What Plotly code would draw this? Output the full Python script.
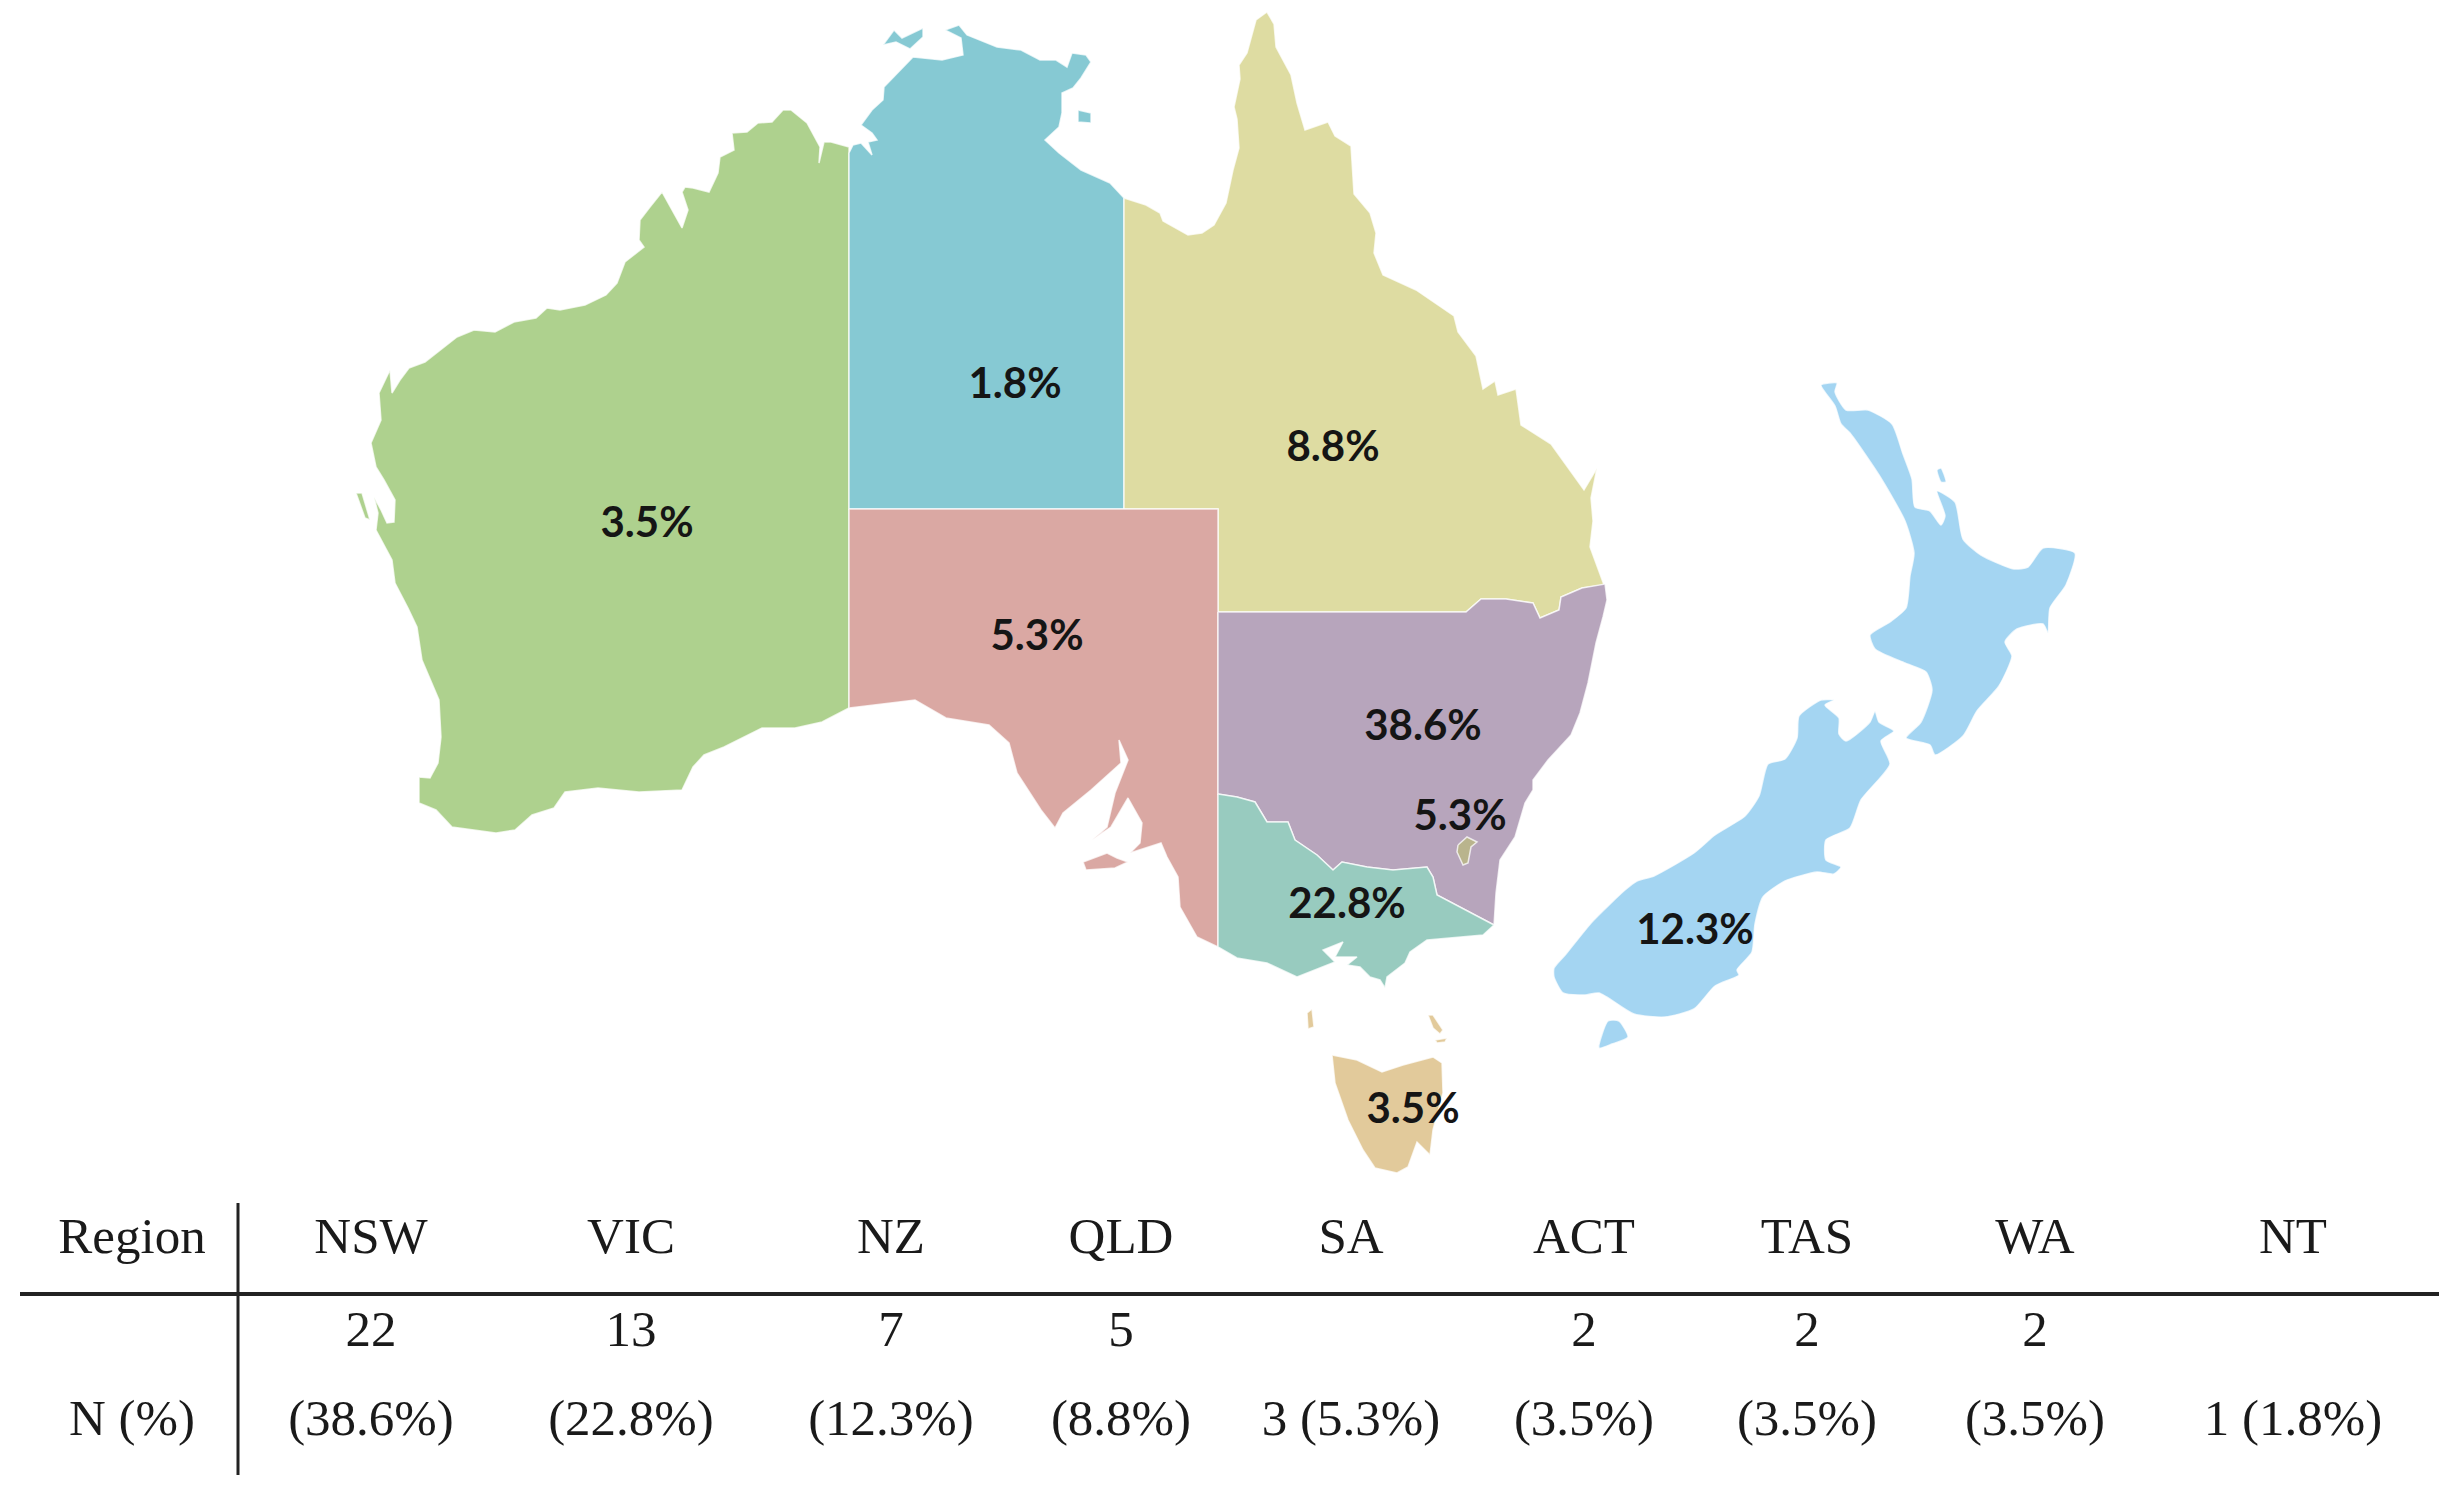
import plotly.graph_objects as go

# outlines, in picture pixels
wa_outline = [
    (849, 147), (831, 142), (824, 142), (819, 163), (820, 147), (807, 123), (791, 110), (783, 110),
    (772, 122), (758, 123), (747, 132), (732, 133), (734, 150), (720, 157), (718, 173), (709, 192),
    (693, 188), (685, 187), (682, 192), (688, 210), (682, 228), (662, 192), (650, 207), (640, 220),
    (639, 240), (644, 247), (625, 262), (617, 283), (606, 295), (585, 305), (560, 310), (547, 308),
    (536, 318), (514, 322), (495, 332), (474, 330), (457, 337), (438, 352), (425, 362), (409, 368),
    (400, 380), (392, 393), (390, 370), (379, 393), (381, 420), (371, 443), (376, 467), (384, 480),
    (395, 500), (394, 522), (387, 523), (381, 510), (374, 497), (378, 513), (376, 530), (392, 560),
    (395, 583), (408, 608), (417, 627), (422, 660), (439, 700), (441, 737), (438, 763), (430, 778),
    (419, 777), (419, 803), (436, 810), (452, 827), (496, 833), (515, 830), (532, 815), (554, 808),
    (565, 792), (598, 788), (639, 792), (682, 790), (693, 767), (704, 755), (724, 747), (762, 728),
    (795, 728), (822, 722), (849, 708),
]
wa_island = [(356, 493), (362, 493), (370, 520), (365, 518)]

nt_outline = [
    (849, 153), (853, 145), (861, 143), (872, 155), (868, 142), (877, 140), (872, 133), (861, 125),
    (872, 110), (883, 100), (884, 87), (899, 72), (913, 57), (942, 60), (963, 55), (961, 38),
    (945, 30), (959, 25), (967, 35), (997, 47), (1021, 50), (1040, 60), (1056, 60), (1067, 67),
    (1072, 53), (1086, 55), (1091, 62), (1081, 78), (1073, 88), (1062, 93), (1062, 113), (1059, 127),
    (1045, 140), (1059, 153), (1081, 170), (1110, 183), (1124, 198), (1124, 509), (849, 509),
]
nt_tiwi = [(883, 45), (894, 30), (902, 38), (923, 28), (923, 37), (910, 49), (896, 42)]
nt_groote = [(1078, 110), (1091, 113), (1091, 123), (1078, 122)]

qld_outline = [
    (1124, 198), (1146, 205), (1160, 213), (1163, 221), (1188, 235), (1202, 233), (1214, 225), (1226, 203),
    (1233, 170), (1239, 148), (1237, 119), (1234, 107), (1240, 79), (1239, 65), (1247, 53), (1256, 20),
    (1267, 12), (1274, 24), (1276, 47), (1291, 75), (1297, 103), (1305, 130), (1328, 122), (1335, 136),
    (1351, 146), (1354, 194), (1370, 213), (1376, 233), (1374, 253), (1383, 275), (1416, 290), (1454, 316),
    (1458, 332), (1476, 356), (1483, 389), (1495, 381), (1498, 395), (1516, 389), (1521, 425), (1551, 444),
    (1584, 490), (1597, 468), (1591, 498), (1593, 521), (1590, 547), (1604, 585), (1582, 588), (1561, 597),
    (1559, 610), (1540, 618), (1533, 603), (1506, 599), (1481, 599), (1466, 612), (1218, 612), (1218, 509),
    (1124, 509),
]

sa_outline = [
    (849, 509), (1218, 509), (1218, 947), (1197, 937), (1180, 907), (1178, 877), (1167, 857), (1161, 843),
    (1130, 853), (1140, 843), (1142, 823), (1128, 798), (1111, 827), (1092, 840), (1107, 827), (1115, 793),
    (1128, 760), (1119, 740), (1121, 763), (1091, 790), (1063, 813), (1055, 828), (1041, 810), (1017, 773),
    (1009, 743), (989, 725), (946, 718), (915, 700), (849, 708),
]
sa_kangaroo = [(1083, 862), (1107, 853), (1117, 858), (1128, 862), (1115, 868), (1086, 870)]

nsw_outline = [
    (1218, 612), (1466, 612), (1481, 599), (1506, 599), (1533, 603), (1540, 618), (1559, 610), (1561, 597),
    (1582, 588), (1605, 584), (1607, 600), (1603, 617), (1596, 643), (1588, 683), (1580, 713), (1571, 735),
    (1548, 760), (1533, 780), (1533, 790), (1525, 803), (1515, 837), (1500, 860), (1496, 893), (1494, 925),
    (1437, 895), (1433, 877), (1427, 867), (1393, 870), (1367, 867), (1342, 862), (1333, 870), (1317, 855),
    (1295, 840), (1288, 822), (1267, 822), (1255, 802), (1237, 797), (1218, 794),
]
act_outline = [(1458, 845), (1467, 837), (1477, 842), (1471, 847), (1468, 863), (1463, 865), (1457, 852)]

vic_outline = [
    (1218, 794), (1237, 797), (1255, 802), (1267, 822), (1288, 822), (1295, 840), (1317, 855), (1333, 870),
    (1342, 862), (1367, 867), (1393, 870), (1427, 867), (1433, 877), (1437, 895), (1494, 925), (1483, 935),
    (1427, 940), (1410, 952), (1405, 963), (1387, 977), (1385, 988), (1380, 980), (1370, 977), (1360, 967),
    (1347, 965), (1357, 957), (1335, 957), (1343, 942), (1323, 950), (1335, 962), (1297, 977), (1267, 963),
    (1237, 958), (1218, 947),
]

tas_outline = [
    (1332, 1055), (1357, 1060), (1382, 1072), (1403, 1065), (1433, 1057), (1442, 1063), (1443, 1093), (1433, 1130),
    (1430, 1155), (1417, 1142), (1408, 1167), (1397, 1173), (1375, 1168), (1363, 1150), (1348, 1120), (1335, 1083),
]
tas_king = [(1307, 1013), (1312, 1009), (1314, 1027), (1308, 1029)]
tas_flinders = [(1428, 1015), (1433, 1015), (1443, 1030), (1440, 1034), (1433, 1028)]
tas_cape = [(1435, 1040), (1447, 1038), (1445, 1042), (1437, 1043)]

nz_north = [
    (1821, 385), (1837, 383), (1835, 392), (1846, 410), (1868, 410), (1892, 424), (1903, 454), (1912, 479),
    (1915, 507), (1930, 511), (1941, 525), (1945, 516), (1937, 491), (1955, 502), (1963, 539), (1981, 555),
    (2014, 569), (2028, 567), (2043, 548), (2075, 553), (2066, 585), (2050, 608), (2048, 633), (2043, 624),
    (2017, 629), (2005, 642), (2012, 656), (1999, 686), (1977, 711), (1963, 736), (1935, 755), (1930, 745),
    (1906, 738), (1921, 722), (1932, 690), (1926, 672), (1905, 663), (1875, 649), (1870, 635), (1890, 622),
    (1906, 608), (1910, 576), (1914, 553), (1905, 521), (1879, 475), (1850, 433), (1841, 424), (1835, 406),
]
nz_barrier = [(1937, 470), (1941, 468), (1946, 482), (1941, 482)]
nz_south = [
    (1821, 700), (1834, 700), (1825, 705), (1839, 718), (1839, 734), (1846, 741), (1870, 722), (1875, 711),
    (1879, 722), (1894, 731), (1881, 741), (1890, 764), (1861, 800), (1850, 828), (1826, 840), (1826, 860),
    (1841, 867), (1834, 874), (1817, 872), (1785, 881), (1763, 897), (1755, 924), (1752, 952), (1737, 970),
    (1739, 975), (1715, 986), (1694, 1009), (1665, 1017), (1634, 1014), (1599, 993), (1585, 995), (1563, 993),
    (1554, 977), (1554, 968), (1566, 954), (1592, 922), (1625, 890), (1637, 881), (1654, 876), (1694, 853),
    (1715, 835), (1745, 816), (1759, 796), (1768, 764), (1785, 759), (1797, 738), (1799, 716),
]
nz_stewart = [(1599, 1048), (1608, 1021), (1619, 1021), (1628, 1037), (1612, 1044)]

# map labels
map_labels = ["3.5%", "1.8%", "8.8%", "5.3%", "38.6%", "5.3%", "22.8%", "12.3%", "3.5%"]
map_label_x = [647, 1015, 1333, 1037, 1423, 1460, 1347, 1695, 1413]
map_label_y = [526, 387, 450, 639, 729, 819, 907, 933, 1112]

# table
regions = ["NSW", "VIC", "NZ", "QLD", "SA", "ACT", "TAS", "WA", "NT"]
counts = ["22", "13", "7", "5", "", "2", "2", "2", ""]
percents = ["(38.6%)", "(22.8%)", "(12.3%)", "(8.8%)", "3 (5.3%)", "(3.5%)", "(3.5%)", "(3.5%)", "1 (1.8%)"]
column_x = [371, 631, 891, 1121, 1351, 1584, 1807, 2035, 2293]
row_y = [1240, 1333, 1422]
row_titles = ["Region", "N (%)"]
row_title_x = 132


def add_region(fig, rings, color, name, shape='linear'):
    xs, ys = [], []
    for ring in rings:
        xs += [p[0] for p in ring] + [ring[0][0], None]
        ys += [p[1] for p in ring] + [ring[0][1], None]
    fig.add_trace(go.Scatter(
        x=xs,
        y=ys,
        mode='lines',
        name=name,
        fill='toself',
        fillcolor=color,
        line=dict(color='rgba(255,255,255,0.75)', width=1.5, shape=shape, smoothing=0.6),
        hoverinfo='skip',
    ))


def add_text(fig, xs, ys, texts, font):
    fig.add_trace(go.Scatter(
        x=xs,
        y=ys,
        mode='text',
        text=texts,
        textposition='middle center',
        textfont=font,
        hoverinfo='skip',
    ))


fig = go.Figure()

add_region(fig, [wa_outline, wa_island], '#AED18E', 'WA')
add_region(fig, [nt_outline, nt_tiwi, nt_groote], '#86C9D3', 'NT')
add_region(fig, [qld_outline], '#DEDCA2', 'QLD')
add_region(fig, [sa_outline, sa_kangaroo], '#DAA8A3', 'SA')
add_region(fig, [nsw_outline], '#B7A5BC', 'NSW')
add_region(fig, [vic_outline], '#98CBBF', 'VIC')
add_region(fig, [act_outline], '#B9B48D', 'ACT')
add_region(fig, [tas_outline, tas_king, tas_flinders, tas_cape], '#E2CA9B', 'TAS')
add_region(fig, [nz_north, nz_barrier, nz_south, nz_stewart], '#A4D5F2', 'NZ', shape='spline')

map_font = dict(family='Lato', size=42, color='#151515', weight='bold')
table_font = dict(family='Liberation Serif', size=51, color='#1a1a1a')

add_text(fig, map_label_x, map_label_y, map_labels, map_font)
add_text(fig, column_x, [row_y[0]] * len(regions), regions, table_font)
add_text(fig, column_x, [row_y[1]] * len(counts), counts, table_font)
add_text(fig, column_x, [row_y[2]] * len(percents), percents, table_font)
add_text(fig, [row_title_x, row_title_x], [row_y[0], row_y[2]], row_titles, table_font)

# table rules
fig.add_shape(type='line', x0=20, x1=2439, y0=1294, y1=1294, line=dict(color='#222222', width=4))
fig.add_shape(type='line', x0=238, x1=238, y0=1203, y1=1475, line=dict(color='#222222', width=3))

fig.update_layout(
    width=2457,
    height=1498,
    showlegend=False,
    plot_bgcolor='white',
    paper_bgcolor='white',
    margin=dict(l=0, r=0, t=0, b=0),
)
fig.update_xaxes(range=[0, 2457], visible=False)
fig.update_yaxes(range=[1498, 0], visible=False)

fig.write_html("out.html", config=dict(displayModeBar=False), post_script="document.body.style.margin='0';")
